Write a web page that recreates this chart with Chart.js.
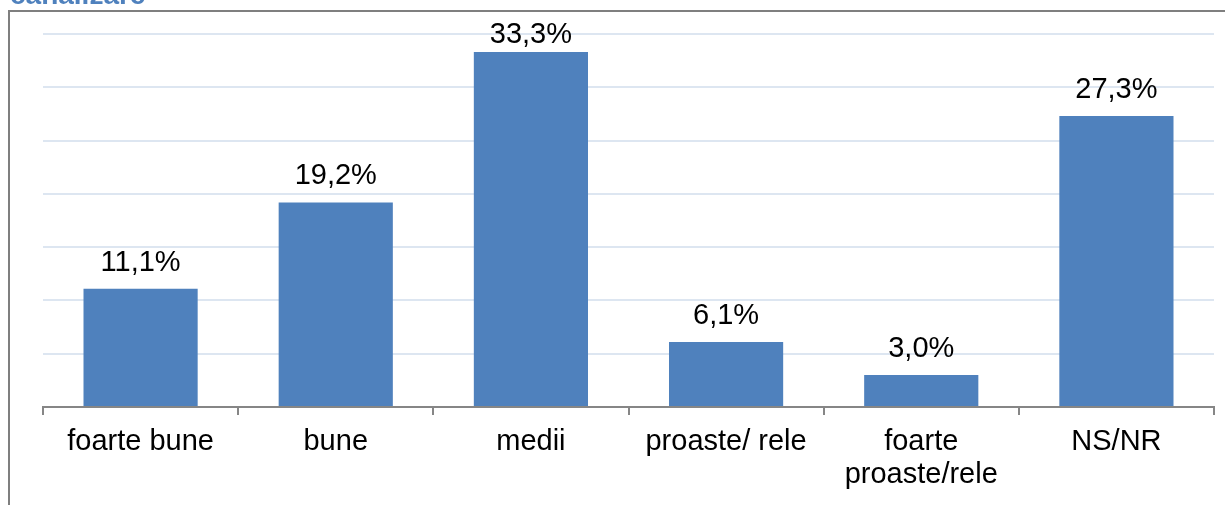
<!DOCTYPE html>
<html>
<head>
<meta charset="utf-8">
<script src="https://cdn.jsdelivr.net/npm/chart.js@4"></script>
<style>
  html, body { margin: 0; padding: 0; background: #fff; }
  #wrap { width: 1225px; height: 505px; }
</style>
</head>
<body>
<div id="wrap"><canvas id="chart" width="1225" height="505"></canvas></div>
<script>
const categories = ['foarte bune', 'bune', 'medii', 'proaste/ rele', ['foarte', 'proaste/rele'], 'NS/NR'];
const values = [11.1, 19.2, 33.3, 6.1, 3.0, 27.3];
const titleText = 'canalizare';

const colors = {
    bar: '#4f81bd',
    grid: '#dde6f1',
    axis: '#868686',
    frame: '#7f7f7f',
    text: '#000000'
};
const fontFamily = '"Liberation Sans", Arial, sans-serif';
const fontSize = 29;

const frameAndTitle = {
    id: 'frameAndTitle',
    beforeDraw(chart) {
        const ctx = chart.ctx;
        ctx.save();
        ctx.strokeStyle = colors.frame;
        ctx.lineWidth = 2;
        ctx.beginPath();
        ctx.moveTo(9, 600);
        ctx.lineTo(9, 11);
        ctx.lineTo(1300, 11);
        ctx.stroke();
        ctx.fillStyle = colors.bar;
        ctx.font = 'bold 28px ' + fontFamily;
        ctx.textBaseline = 'alphabetic';
        ctx.fillText(titleText, 10, 4);
        ctx.restore();
    }
};

// labels above bars, kept inside the plot like Excel does
const valueLabels = {
    id: 'valueLabels',
    afterDatasetsDraw(chart) {
        const ctx = chart.ctx;
        const meta = chart.getDatasetMeta(0);
        const minBase = chart.chartArea.top + 9;
        ctx.save();
        ctx.fillStyle = colors.text;
        ctx.font = fontSize + 'px ' + fontFamily;
        ctx.textAlign = 'center';
        ctx.textBaseline = 'alphabetic';
        meta.data.forEach((bar, i) => {
            const label = values[i].toFixed(1).replace('.', ',') + '%';
            ctx.fillText(label, bar.x, Math.max(bar.y - 18, minBase));
        });
        ctx.restore();
    }
};

const ctx = document.getElementById('chart').getContext('2d');
new Chart(ctx, {
    type: 'bar',
    data: {
        labels: categories,
        datasets: [{
            data: values,
            backgroundColor: colors.bar,
            barPercentage: 0.585,
            categoryPercentage: 1
        }]
    },
    options: {
        responsive: false,
        animation: false,
        devicePixelRatio: 1,
        layout: { padding: { left: 43, right: 11, top: 34, bottom: 0 } },
        plugins: {
            legend: { display: false },
            tooltip: { enabled: false }
        },
        scales: {
            x: {
                grid: {
                    offset: true,
                    drawOnChartArea: false,
                    drawTicks: true,
                    tickLength: 8,
                    color: colors.axis,
                    lineWidth: 2
                },
                border: { display: true, color: colors.axis, width: 2 },
                ticks: {
                    color: colors.text,
                    font: { family: fontFamily, size: fontSize, lineHeight: 1.14 },
                    padding: 10,
                    maxRotation: 0,
                    autoSkip: false
                },
                afterFit(scale) { scale.height = 505 - 407; }
            },
            y: {
                min: 0,
                max: 35,
                ticks: { display: false, stepSize: 5 },
                border: { display: false },
                grid: {
                    drawTicks: false,
                    lineWidth: 2,
                    color: c => c.tick.value === 0 ? 'rgba(0,0,0,0)' : colors.grid
                },
                afterFit(scale) { scale.width = 0; }
            }
        }
    },
    plugins: [frameAndTitle, valueLabels]
});
</script>
</body>
</html>
